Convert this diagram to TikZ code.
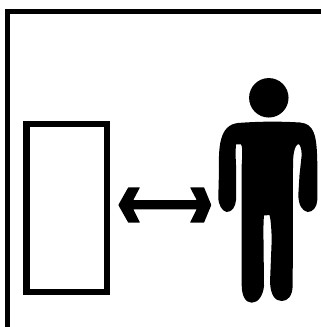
\documentclass[tikz,border=0pt]{standalone}
\tikzset{
  frameline/.style={draw=black,line width=3.7pt,line join=miter},
  doorbox/.style={draw=black,line width=4.6pt,fill=white,inner sep=0pt,outer sep=0pt,minimum width=60.4pt,minimum height=126.2pt},
  headdisc/.style={circle,fill=black,draw=none,inner sep=0pt,minimum size=29.6pt},
  px/.style={x=0.75pt,y=-0.75pt}
}
\begin{document}
\begin{tikzpicture}[px]
\useasboundingbox (0,0) rectangle (321,327);
\fill[white] (0,0) rectangle (321,327);
% frame: only left and top edges, running off the picture
\draw[frameline] (7.6,327) -- (7.6,11.7) -- (321,11.7);
% door
\node[doorbox] (door) at (66.75,207.9) {};
% head
\node[headdisc] (head) at (268.8,97.8) {};
% body
\fill[black] (219,170) .. controls (218.5,148) and (219,125) .. (238,123)
 .. controls (260,121.3) and (280,121.3) .. (300,122.5)
 .. controls (314,124) and (317,134) .. (317.3,165)
 -- (317.3,200) .. controls (317,207) and (313,212) .. (307.7,212)
 .. controls (302,211) and (298.5,205) .. (298.3,195)
 -- (299.5,175) -- (301.7,155) .. controls (301.5,148) and (300,144) .. (298,144)
 .. controls (295,146) and (293,152) .. (293,165)
 -- (292.7,285) .. controls (292.5,296) and (288,301) .. (281.7,301)
 .. controls (275,301) and (270.5,295) .. (270,282)
 -- (271.7,240) .. controls (271.5,228) and (270.5,218) .. (269.5,215)
 -- (264,215.5) .. controls (263.5,220) and (263.3,230) .. (263.5,240)
 -- (264,286) .. controls (263,296) and (258,302.7) .. (251.7,302.7)
 .. controls (245,302.7) and (241.7,295) .. (241.7,285)
 -- (241.7,165) .. controls (242.5,152) and (242.5,146) .. (241,144.5)
 -- (236,144.5) .. controls (235.5,150) and (235.5,155) .. (236,165)
 -- (236,200) .. controls (235.5,207) and (232,212) .. (226.7,212)
 .. controls (222,211) and (218.3,205) .. (218.3,197) -- cycle;
% double arrow
\fill[black,rounded corners=0.4pt] (118.3,205) -- (128.3,187.3) -- (140,187.3) -- (133.3,200) -- (196.7,200) -- (190,187.3) -- (204,187.3) -- (211.3,205)
 -- (204,222.7) -- (190,222.7) -- (196.7,209.3) -- (133.3,209.3) -- (140,222.7) -- (128.3,222.7) -- cycle;
\end{tikzpicture}
\end{document}
